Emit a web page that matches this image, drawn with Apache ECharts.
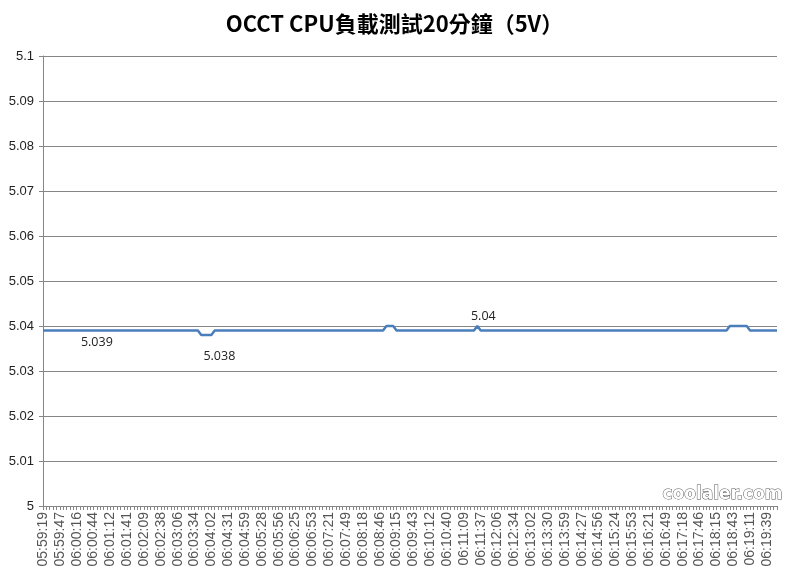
<!DOCTYPE html>
<html>
<head>
<meta charset="utf-8">
<script src="https://cdn.jsdelivr.net/npm/echarts@6/dist/echarts.min.js"></script>
<style>html,body{margin:0;padding:0;background:#fff;}#c{width:789px;height:574px;}</style>
</head>
<body>
<div id="c"></div>
<script>
// Tick labels shown every 5th sample along the x axis
const tickLabels = [
  '05:59:19','05:59:47','06:00:16','06:00:44','06:01:12','06:01:41','06:02:09','06:02:38','06:03:06','06:03:34',
  '06:04:02','06:04:31','06:04:59','06:05:28','06:05:56','06:06:25','06:06:53','06:07:21','06:07:49','06:08:18',
  '06:08:46','06:09:15','06:09:43','06:10:12','06:10:40','06:11:09','06:11:37','06:12:06','06:12:34','06:13:02',
  '06:13:30','06:13:59','06:14:27','06:14:56','06:15:24','06:15:53','06:16:21','06:16:49','06:17:18','06:17:46',
  '06:18:15','06:18:43','06:19:11','06:19:39'
];
const labelEvery = 5;

// 5V readings (V), one per sample
const values5V = [
  5.039,5.039,5.039,5.039,5.039,5.039,5.039,5.039,5.039,5.039,
  5.039,5.039,5.039,5.039,5.039,5.039,5.039,5.039,5.039,5.039,
  5.039,5.039,5.039,5.039,5.039,5.039,5.039,5.039,5.039,5.039,
  5.039,5.039,5.039,5.039,5.039,5.039,5.039,5.039,5.039,5.039,
  5.039,5.039,5.039,5.039,5.039,5.039,5.039,5.038,5.038,5.038,
  5.038,5.039,5.039,5.039,5.039,5.039,5.039,5.039,5.039,5.039,
  5.039,5.039,5.039,5.039,5.039,5.039,5.039,5.039,5.039,5.039,
  5.039,5.039,5.039,5.039,5.039,5.039,5.039,5.039,5.039,5.039,
  5.039,5.039,5.039,5.039,5.039,5.039,5.039,5.039,5.039,5.039,
  5.039,5.039,5.039,5.039,5.039,5.039,5.039,5.039,5.039,5.039,
  5.039,5.039,5.040,5.040,5.040,5.039,5.039,5.039,5.039,5.039,
  5.039,5.039,5.039,5.039,5.039,5.039,5.039,5.039,5.039,5.039,
  5.039,5.039,5.039,5.039,5.039,5.039,5.039,5.039,5.039,5.040,
  5.039,5.039,5.039,5.039,5.039,5.039,5.039,5.039,5.039,5.039,
  5.039,5.039,5.039,5.039,5.039,5.039,5.039,5.039,5.039,5.039,
  5.039,5.039,5.039,5.039,5.039,5.039,5.039,5.039,5.039,5.039,
  5.039,5.039,5.039,5.039,5.039,5.039,5.039,5.039,5.039,5.039,
  5.039,5.039,5.039,5.039,5.039,5.039,5.039,5.039,5.039,5.039,
  5.039,5.039,5.039,5.039,5.039,5.039,5.039,5.039,5.039,5.039,
  5.039,5.039,5.039,5.039,5.039,5.039,5.039,5.039,5.039,5.039,
  5.039,5.039,5.039,5.039,5.040,5.040,5.040,5.040,5.040,5.040,
  5.039,5.039,5.039,5.039,5.039,5.039,5.039,5.039,5.039
];

// Samples that carry a data label
const labeledSamples = [16, 50, 129];

// Y axis range
const yMin = 5, yMax = 5.1, yStep = 0.01;

const categories = values5V.map((v, i) =>
  (i % labelEvery === 0 && tickLabels[i / labelEvery] !== undefined) ? tickLabels[i / labelEvery] : '');

const labelStyle = {
  16:  { position: 'bottom', distance: 5, offset: [0, 0] },
  50:  { position: 'bottom', distance: 15, offset: [8, 0] },
  129: { position: 'top', distance: 3, offset: [6, 0] }
};

const seriesData = values5V.map((v, i) => {
  if (labeledSamples.indexOf(i) >= 0) {
    const s = labelStyle[i];
    return {
      value: v,
      label: {
        show: true, position: s.position, distance: s.distance, offset: s.offset,
        formatter: p => String(+(+p.value).toFixed(3)),
        fontSize: 12.5, color: '#222', fontFamily: 'Open Sans'
      }
    };
  }
  return v;
});

const chart = echarts.init(document.getElementById('c'), null, { renderer: 'canvas' });
chart.setOption({
  animation: false,
  backgroundColor: '#fff',
  title: {
    text: 'OCCT CPU負載測試20分鐘（5V）',
    left: 'center',
    top: 8,
    textStyle: { fontSize: 22, fontWeight: 'bold', color: '#000', fontFamily: 'Noto Sans CJK TC' }
  },
  grid: { left: 43, right: 12, top: 56, bottom: 68, containLabel: false },
  xAxis: {
    type: 'category',
    data: categories,
    boundaryGap: false,
    axisLine: { lineStyle: { color: '#868686', width: 1 } },
    axisTick: { show: true, interval: 0, length: 4, lineStyle: { color: '#868686' } },
    axisLabel: {
      interval: labelEvery - 1, rotate: 90, fontSize: 14, color: '#555',
      fontFamily: 'Liberation Sans', margin: 6
    },
    splitLine: { show: false }
  },
  yAxis: {
    type: 'value',
    min: yMin, max: yMax, interval: yStep,
    axisLine: { show: true, lineStyle: { color: '#868686', width: 1 } },
    axisTick: { show: true, length: 4, lineStyle: { color: '#868686' } },
    axisLabel: {
      formatter: v => String(+v.toFixed(3)),
      fontSize: 13, color: '#222', fontFamily: 'Liberation Sans', margin: 9
    },
    splitLine: { show: true, lineStyle: { color: '#868686', width: 1 } }
  },
  series: [{
    type: 'line',
    data: seriesData,
    symbol: 'circle',
    symbolSize: 0.01,
    showSymbol: true,
    showAllSymbol: true,
    lineStyle: { color: '#4a7ebb', width: 2.5 },
    itemStyle: { color: 'rgba(0,0,0,0)' },
    z: 3
  }],
  graphic: [{
    type: 'text',
    right: 6,
    top: 486,
    z: 10,
    style: {
      text: 'coolaler.com',
      font: 'bold 17px "DejaVu Sans"',
      fill: '#fff',
      stroke: '#555',
      lineWidth: 1
    }
  }]
});
</script>
</body>
</html>
